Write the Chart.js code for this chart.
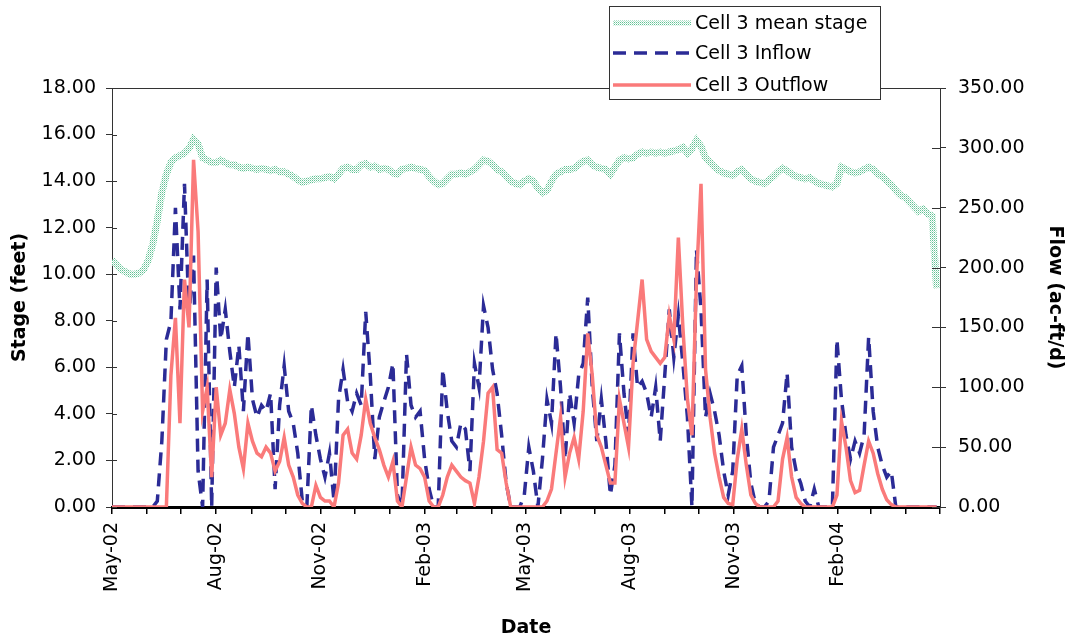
<!DOCTYPE html>
<html>
<head>
<meta charset="utf-8">
<title>Cell 3 stage and flow</title>
<script src="https://cdn.jsdelivr.net/npm/chart.js@4.4.0/dist/chart.umd.min.js"></script>
<style>
    html, body { margin: 0; padding: 0; background: #fff; }
</style>
</head>
<body>
<canvas id="myChart" width="1069" height="640"></canvas>
<script>
// one reading every 4 days, day 0 = 1 May 2002
var stepDays = 4;

// Cell 3 mean stage (feet)
var stage = [
    10.6, 10.4, 10.2, 10.1, 10.0, 10.0, 10.05, 10.2, 10.6, 11.3,
    12.3, 13.5, 14.3, 14.8, 15.0, 15.1, 15.2, 15.4, 15.8, 15.6,
    15.0, 14.9, 14.8, 14.8, 14.9, 14.8, 14.7, 14.7, 14.6, 14.55,
    14.6, 14.55, 14.5, 14.55, 14.5, 14.45, 14.5, 14.4, 14.4, 14.3,
    14.2, 14.05, 13.95, 14.0, 14.05, 14.1, 14.1, 14.15, 14.2, 14.1,
    14.3, 14.55, 14.6, 14.5, 14.5, 14.7, 14.75, 14.6, 14.65, 14.5,
    14.55, 14.5, 14.35, 14.3, 14.5, 14.55, 14.6, 14.55, 14.5, 14.45,
    14.2, 14.0, 13.85, 13.9, 14.1, 14.3, 14.3, 14.35, 14.3, 14.4,
    14.5, 14.7, 14.9, 14.85, 14.7, 14.5, 14.4, 14.2, 14.0, 13.9,
    13.85, 14.0, 14.1, 14.0, 13.7, 13.5, 13.6, 14.0, 14.3, 14.4,
    14.5, 14.5, 14.55, 14.7, 14.85, 14.9, 14.7, 14.6, 14.55, 14.5,
    14.3, 14.6, 14.9, 15.0, 14.95, 15.0, 15.15, 15.25, 15.2, 15.25,
    15.2, 15.25, 15.2, 15.25, 15.3, 15.35, 15.45, 15.2, 15.4, 15.75,
    15.5, 15.0, 14.8, 14.6, 14.45, 14.35, 14.3, 14.25, 14.4, 14.5,
    14.3, 14.1, 14.0, 13.95, 13.9, 14.05, 14.2, 14.4, 14.55, 14.45,
    14.3, 14.2, 14.15, 14.1, 14.15, 14.0, 13.9, 13.85, 13.8, 13.75,
    13.9, 14.6, 14.5, 14.4, 14.35, 14.4, 14.5, 14.6, 14.5, 14.3,
    14.2, 14.0, 13.85, 13.6, 13.4, 13.3, 13.1, 12.9, 12.7, 12.8,
    12.6, 12.5, 9.4
];

// Cell 3 inflow (ac-ft/d)
var inflow = [
    0, 0, 0, 0, 0, 0, 0, 0, 0, 0,
    5, 55, 140, 155, 250, 165, 270, 160, 210, 30,
    0, 190, 0, 200, 140, 165, 130, 100, 135, 80,
    145, 90, 75, 85, 80, 95, 15, 85, 118, 80,
    70, 45, 5, 0, 85, 60, 40, 25, 45, 5,
    90, 115, 88, 80, 95, 85, 163, 110, 40, 75,
    88, 100, 120, 10, 0, 128, 85, 75, 80, 40,
    15, 0, 0, 115, 80, 55, 50, 70, 65, 30,
    120, 100, 168, 150, 115, 95, 60, 20, 0, 0,
    0, 10, 50, 30, 0, 40, 90, 70, 145, 100,
    40, 95, 70, 110, 120, 175, 100, 55, 90, 55,
    10, 35, 145, 95, 60, 145, 100, 105, 95, 75,
    100, 55, 110, 165, 125, 160, 120, 75, 0, 215,
    165, 75, 95, 80, 60, 30, 10, 30, 110, 118,
    60, 20, 3, 0, 0, 5, 50, 60, 70, 112,
    50, 30, 20, 5, 0, 15, 0, 0, 0, 0,
    140, 90, 60, 40, 55, 45, 60, 142, 80, 50,
    35, 25, 30, 0, 0, 0, 0, 0, 0, 0,
    0, 0, 0
];

// Cell 3 outflow (ac-ft/d)
var outflow = [
    0, 0, 0, 0, 0, 0, 0, 0, 0, 0,
    0, 0, 0, 110, 158, 70, 190, 150, 290, 230,
    80, 100, 25, 100, 60, 70, 98, 78, 50, 32,
    70, 55, 45, 42, 50, 45, 30, 38, 58, 35,
    25, 10, 3, 0, 0, 18, 8, 5, 5, 0,
    20, 60, 65, 45, 40, 60, 90, 70, 58, 48,
    35, 25, 38, 5, 0, 25, 50, 35, 32, 25,
    5, 0, 0, 10, 25, 35, 30, 25, 22, 20,
    3, 25, 55, 95, 100, 48, 45, 20, 0, 0,
    0, 0, 0, 0, 0, 0, 5, 15, 45, 75,
    25, 45, 58, 40, 80, 145, 110, 60, 50, 35,
    20, 20, 90, 70, 50, 120, 155, 190, 140, 130,
    125, 120, 125, 160, 140, 225, 150, 90, 60, 190,
    270, 115, 75, 45, 25, 8, 3, 2, 40, 65,
    35, 10, 3, 0, 0, 0, 0, 5, 40, 58,
    25, 8, 3, 0, 0, 0, 0, 0, 0, 0,
    10, 72, 50, 22, 12, 14, 35, 55, 45, 28,
    15, 6, 2, 0, 0, 0, 0, 0, 0, 0,
    0, 0, 0
];

// month ticks on the date axis (days since 1 May 2002), labelled every 3 months
var monthDays = [0, 31, 61, 92, 123, 153, 184, 214, 245, 276, 304, 335, 365,
    396, 426, 457, 488, 518, 549, 579, 610, 641, 670, 701, 731];
var monthLabels = ['May-02', '', '', 'Aug-02', '', '', 'Nov-02', '', '', 'Feb-03', '', '', 'May-03',
    '', '', 'Aug-03', '', '', 'Nov-03', '', '', 'Feb-04', '', '', ''];

var fontName = 'DejaVu Sans';

function toPoints(values) {
    var pts = [];
    for (var i = 0; i < values.length; i++) {
        pts.push({x: i * stepDays, y: values[i]});
    }
    return pts;
}

// light green dotted texture for the stage line
function dotPattern(ctx) {
    var c = document.createElement('canvas');
    c.width = 2;
    c.height = 2;
    var g = c.getContext('2d');
    g.fillStyle = '#ffffff';
    g.fillRect(0, 0, 2, 2);
    g.fillStyle = '#5fc193';
    g.fillRect(0, 0, 1, 1);
    g.fillStyle = '#b4e2cc';
    g.fillRect(1, 1, 1, 1);
    return ctx.createPattern(c, 'repeat');
}

// top edge of the plot box, inner tick halves and the boxed legend
var boxPlugin = {
    id: 'boxPlugin',
    afterDraw: function (chart) {
        var ctx = chart.ctx;
        var area = chart.chartArea;
        ctx.save();
        ctx.strokeStyle = '#333';
        ctx.lineWidth = 1;
        ctx.beginPath();
        ctx.moveTo(area.left, area.top + 0.5);
        ctx.lineTo(area.right, area.top + 0.5);

        var yl = chart.scales.y;
        yl.ticks.forEach(function (t) {
            var py = Math.round(yl.getPixelForValue(t.value)) + 0.5;
            ctx.moveTo(area.left, py);
            ctx.lineTo(area.left + 5, py);
        });
        var yr = chart.scales.y1;
        yr.ticks.forEach(function (t) {
            var py = Math.round(yr.getPixelForValue(t.value)) + 0.5;
            ctx.moveTo(area.right - 8, py);
            ctx.lineTo(area.right, py);
        });
        ctx.stroke();

        // legend
        ctx.fillStyle = '#fff';
        ctx.fillRect(609, 6, 271, 93);
        ctx.strokeStyle = '#333';
        ctx.strokeRect(609.5, 6.5, 271, 93);
        var rows = [23, 53, 85];
        chart.data.datasets.forEach(function (ds, i) {
            ctx.save();
            ctx.strokeStyle = ds.borderColor;
            ctx.lineWidth = i === 0 ? 5 : ds.borderWidth;
            ctx.setLineDash(ds.borderDash || []);
            ctx.beginPath();
            ctx.moveTo(613, rows[i]);
            ctx.lineTo(691, rows[i]);
            ctx.stroke();
            ctx.restore();
            ctx.fillStyle = '#000';
            ctx.font = '19px "' + fontName + '"';
            ctx.textBaseline = 'middle';
            ctx.fillText(ds.label, 695, rows[i] + 1);
        });
        ctx.restore();
    }
};

var ctx = document.getElementById('myChart').getContext('2d');

var myChart = new Chart(ctx, {
    type: 'line',
    data: {
        datasets: [{
            label: 'Cell 3 mean stage',
            data: toPoints(stage),
            yAxisID: 'y',
            borderColor: dotPattern(ctx),
            borderWidth: 7,
            order: 2
        }, {
            label: 'Cell 3 Inflow',
            data: toPoints(inflow),
            yAxisID: 'y1',
            borderColor: '#2b2b96',
            borderWidth: 3.5,
            borderDash: [13, 8],
            order: 1
        }, {
            label: 'Cell 3 Outflow',
            data: toPoints(outflow),
            yAxisID: 'y1',
            borderColor: '#fa7a7a',
            borderWidth: 3.5,
            order: 0
        }]
    },
    options: {
        responsive: false,
        animation: false,
        elements: {
            point: {radius: 0},
            line: {tension: 0, fill: false}
        },
        layout: {padding: {top: 88, left: 0, right: 0, bottom: 0}},
        plugins: {
            legend: {display: false},
            tooltip: {enabled: false}
        },
        scales: {
            x: {
                type: 'linear',
                min: 0,
                max: 731,
                afterBuildTicks: function (scale) {
                    scale.ticks = monthDays.map(function (d) { return {value: d}; });
                },
                afterFit: function (scale) { scale.height = 133; },
                ticks: {
                    autoSkip: false,
                    minRotation: 90,
                    maxRotation: 90,
                    padding: 8,
                    color: '#000',
                    font: {family: fontName, size: 19},
                    callback: function (value) {
                        var i = monthDays.indexOf(value);
                        return i >= 0 ? monthLabels[i] : '';
                    }
                },
                grid: {drawOnChartArea: false, tickLength: 7, color: '#000', lineWidth: 1.5},
                border: {display: true, color: '#000', width: 3},
                title: {
                    display: true,
                    text: 'Date',
                    color: '#000',
                    font: {family: fontName, size: 19, weight: 'bold'},
                    padding: {top: 0, bottom: 1}
                }
            },
            y: {
                position: 'left',
                min: 0,
                max: 18,
                afterFit: function (scale) { scale.width = 112; },
                ticks: {
                    stepSize: 2,
                    padding: 10,
                    color: '#000',
                    font: {family: fontName, size: 19},
                    callback: function (v) { return v.toFixed(2); }
                },
                grid: {drawOnChartArea: false, tickLength: 6, color: '#333'},
                border: {display: true, color: '#333', width: 1},
                title: {
                    display: true,
                    text: 'Stage (feet)',
                    color: '#000',
                    font: {family: fontName, size: 19, weight: 'bold'},
                    padding: {top: 9, bottom: 0}
                }
            },
            y1: {
                position: 'right',
                min: 0,
                max: 350,
                afterFit: function (scale) { scale.width = 129; },
                ticks: {
                    stepSize: 50,
                    padding: 12,
                    color: '#000',
                    font: {family: fontName, size: 19},
                    callback: function (v) { return v.toFixed(2); }
                },
                grid: {drawOnChartArea: false, tickLength: 6, color: '#333'},
                border: {display: true, color: '#333', width: 1},
                title: {
                    display: true,
                    text: 'Flow (ac-ft/d)',
                    color: '#000',
                    font: {family: fontName, size: 19, weight: 'bold'},
                    padding: {top: 3, bottom: 0}
                }
            }
        }
    },
    plugins: [boxPlugin]
});
</script>
</body>
</html>
